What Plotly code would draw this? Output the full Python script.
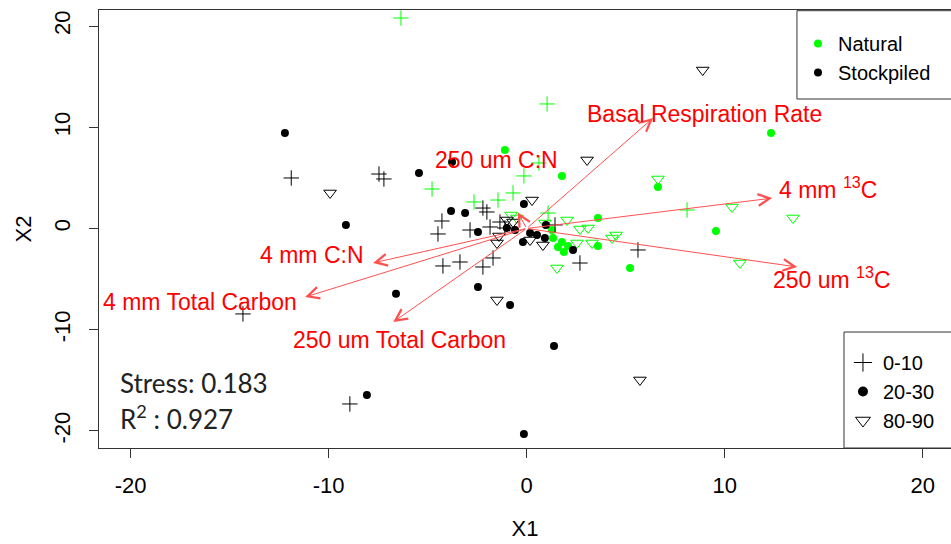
import plotly.graph_objects as go

# ---------------- data ----------------
# Natural, depth 0-10 (green +)
nat_010_x = [-6.35, 1.03, 0.62, -0.14, -4.78, -2.66, -1.45, -0.69, 1.08, 8.10]
nat_010_y = [20.79, 12.30, 6.47, 5.19, 3.90, 2.62, 2.81, 3.51, 1.53, 1.83]
# Natural, depth 20-30 (green dots)
nat_2030_x = [-1.10, 1.78, 6.63, 12.34, 9.56, 5.22, 3.60, 3.60, 1.58, 1.88, 2.09, 1.33, 1.28, 1.78]
nat_2030_y = [7.75, 5.19, 4.10, 9.43, -0.25, -3.90, 1.04, -1.73, -1.83, -2.32, -1.73, -0.94, -0.15, -1.33]
# Natural, depth 80-90 (green open triangles)
nat_8090_x = [6.63, 10.37, 13.45, 10.77, 1.53, 2.04, 2.69, 3.10, 4.31, 4.51, 3.30, 2.54, -0.79, -0.49, 0.92]
nat_8090_y = [4.89, 2.12, 1.04, -3.41, -3.90, 0.84, -0.05, 0.05, -0.94, -0.64, -1.43, -1.43, 1.33, 1.04, 0.54]
# Stockpiled, depth 0-10 (black +)
stk_010_x = [-11.89, -7.46, -7.21, -4.28, -4.48, -4.23, -3.37, -2.21, -1.70, -2.86, -2.21, -2.01, -1.35,
             -1.85, 1.43, 2.69, 5.62, -14.33, -8.93, -1.10]
stk_010_y = [4.99, 5.38, 4.89, 0.74, -0.54, -3.70, -3.31, -3.80, -2.91, -0.15, 2.02, 1.63, 0.64,
             0.15, 0.35, -3.41, -2.12, -8.44, -17.33, 0.05]
# Stockpiled, depth 20-30 (black dots)
stk_2030_x = [-12.21, -9.13, -6.60, -8.07, -5.44, -3.77, -3.82, -3.11, -2.46, -0.84, -0.14, -2.46, -1.00,
              -0.59, -0.19, 0.17, 0.52, 0.92, 0.97, 2.34, 1.38, -0.14]
stk_2030_y = [9.43, 0.35, -6.44, -16.44, 5.48, 6.57, 1.73, 1.53, -5.78, -7.56, 2.42, -0.35, 0.05,
              -0.15, -1.33, -0.44, -0.64, -0.94, 0.35, -2.12, -11.60, -20.30]
# Stockpiled, depth 80-90 (black open triangles)
stk_8090_x = [-9.93, -1.50, 3.05, 5.72, 8.89, -1.40, -1.50, 0.27, 0.17, 0.82, -1.00, -0.69]
stk_8090_y = [3.51, -7.06, 6.77, -14.96, 15.65, -0.74, -1.43, 2.81, -1.14, -1.63, 0.84, 0.64]

# Fitted environmental vectors (arrow tips) and their label positions
vec_labels = ["Basal Respiration Rate", "4 mm <sup>13</sup>C", "250 um <sup>13</sup>C", "250 um C:N",
              "4 mm C:N", "4 mm Total Carbon", "250 um Total Carbon"]
vec_x = [6.38, 12.40, 13.66, -0.45, -7.76, -11.19, -6.74]
vec_y = [10.91, 3.00, -3.80, 1.60, -3.40, -6.77, -9.24]
lab_x = [9.0, 15.2, 15.4, -1.5, -10.85, -16.5, -6.4]
lab_y = [11.3, 4.0, -4.9, 6.8, -2.6, -7.25, -11.0]

site_names = ["Natural", "Stockpiled"]
depth_names = ["0-10", "20-30", "80-90"]
x_ticks = [-20, -10, 0, 10, 20]
x_ticktext = ["-20", "-10", "0", "10", "20"]
y_ticks = [-20, -10, 0, 10, 20]
y_ticktext = ["-20", "-10", "0", "10", "20"]
stress_text = "Stress: 0.183"
r2_text = "R<sup>2</sup> : 0.927"

# ---------------- styling ----------------
GREEN = "#00ff00"
BLACK = "#000000"
ARROW = "#ff5050"
LABEL = "#ff0000"
AXC = "#333333"
FONT = "Liberation Sans, Arial, sans-serif"
site_color = {"Natural": GREEN, "Stockpiled": BLACK}
depth_symbol = {"0-10": "cross-thin-open", "20-30": "circle", "80-90": "triangle-down-open"}
depth_size = {"0-10": 11, "20-30": 8, "80-90": 11}

groups = [
    ("Natural", "0-10", nat_010_x, nat_010_y),
    ("Natural", "20-30", nat_2030_x, nat_2030_y),
    ("Natural", "80-90", nat_8090_x, nat_8090_y),
    ("Stockpiled", "0-10", stk_010_x, stk_010_y),
    ("Stockpiled", "20-30", stk_2030_x, stk_2030_y),
    ("Stockpiled", "80-90", stk_8090_x, stk_8090_y),
]

fig = go.Figure()
for site, depth, xs, ys in groups:
    c = site_color[site]
    fig.add_trace(go.Scatter(
        x=xs, y=ys, mode="markers", showlegend=False, hoverinfo="skip",
        marker=dict(symbol=depth_symbol[depth], size=depth_size[depth], color=c,
                    line=dict(color=c, width=1 if depth != "20-30" else 0)),
    ))

# legend entries (dummy traces)
for site in site_names:
    fig.add_trace(go.Scatter(x=[None], y=[None], mode="markers", name=site, legend="legend",
                             marker=dict(symbol="circle", size=8, color=site_color[site])))
for depth in depth_names:
    fig.add_trace(go.Scatter(x=[None], y=[None], mode="markers", name=depth, legend="legend2",
                             marker=dict(symbol=depth_symbol[depth], size=depth_size[depth] + 2, color=BLACK,
                                         line=dict(color=BLACK, width=1 if depth != "20-30" else 0))))

annotations = []
for tx, ty in zip(vec_x, vec_y):
    annotations.append(dict(x=tx, y=ty, ax=0, ay=0, xref="x", yref="y", axref="x", ayref="y",
                            text="", showarrow=True, arrowhead=5, arrowsize=2.3, arrowwidth=1,
                            arrowcolor=ARROW, standoff=0, startstandoff=0))
for lx, ly, t in zip(lab_x, lab_y, vec_labels):
    annotations.append(dict(x=lx, y=ly, xref="x", yref="y", text=t, showarrow=False,
                            font=dict(family=FONT, size=23, color=LABEL)))
annotations.append(dict(x=0.0223, y=0.1484, xref="paper", yref="paper", xanchor="left", yanchor="middle",
                        text=stress_text, showarrow=False, font=dict(family="Lato, sans-serif", size=26, color="#222")))
annotations.append(dict(x=0.0223, y=0.0685, xref="paper", yref="paper", xanchor="left", yanchor="middle",
                        text=r2_text, showarrow=False, font=dict(family="Lato, sans-serif", size=26, color="#222")))

shapes = [
    dict(type="rect", xref="paper", yref="paper", x0=0.8192, x1=1.05, y0=0.7968, y1=0.9984,
         line=dict(color=AXC, width=1), fillcolor="white", layer="above"),
    dict(type="rect", xref="paper", yref="paper", x0=0.8744, x1=1.05, y0=0.0, y1=0.2648,
         line=dict(color=AXC, width=1), fillcolor="white", layer="above"),
]

fig.update_layout(
    width=951, height=544,
    margin=dict(l=99, r=0, t=10, b=96),
    paper_bgcolor="white", plot_bgcolor="white",
    font=dict(family=FONT, size=22, color="black"),
    annotations=annotations, shapes=shapes,
    legend=dict(x=0.8204, y=0.968, xanchor="left", yanchor="top", bgcolor="rgba(0,0,0,0)",
                borderwidth=0, font=dict(family=FONT, size=20, color="black")),
    legend2=dict(x=0.8732, y=0.2397, xanchor="left", yanchor="top", bgcolor="rgba(0,0,0,0)",
                 borderwidth=0, font=dict(family=FONT, size=20, color="black")),
)
fig.update_xaxes(range=[-21.6, 21.43], tickvals=x_ticks, ticktext=x_ticktext, ticks="outside", ticklen=9,
                 tickcolor=AXC, showline=True, linecolor=AXC, linewidth=1, mirror=True, showgrid=False,
                 zeroline=False, ticklabelstandoff=9, tickfont=dict(family=FONT, size=22),
                 title=dict(text="X1", font=dict(family=FONT, size=22), standoff=23))
fig.update_yaxes(range=[-21.68, 21.58], tickvals=y_ticks, ticktext=y_ticktext, ticks="outside", ticklen=9,
                 tickcolor=AXC, showline=True, linecolor=AXC, linewidth=1, mirror=False, showgrid=False,
                 zeroline=False, tickangle=-90, ticklabelstandoff=10, tickfont=dict(family=FONT, size=22),
                 title=dict(text="X2", font=dict(family=FONT, size=22), standoff=12))

fig.write_html("out.html")
